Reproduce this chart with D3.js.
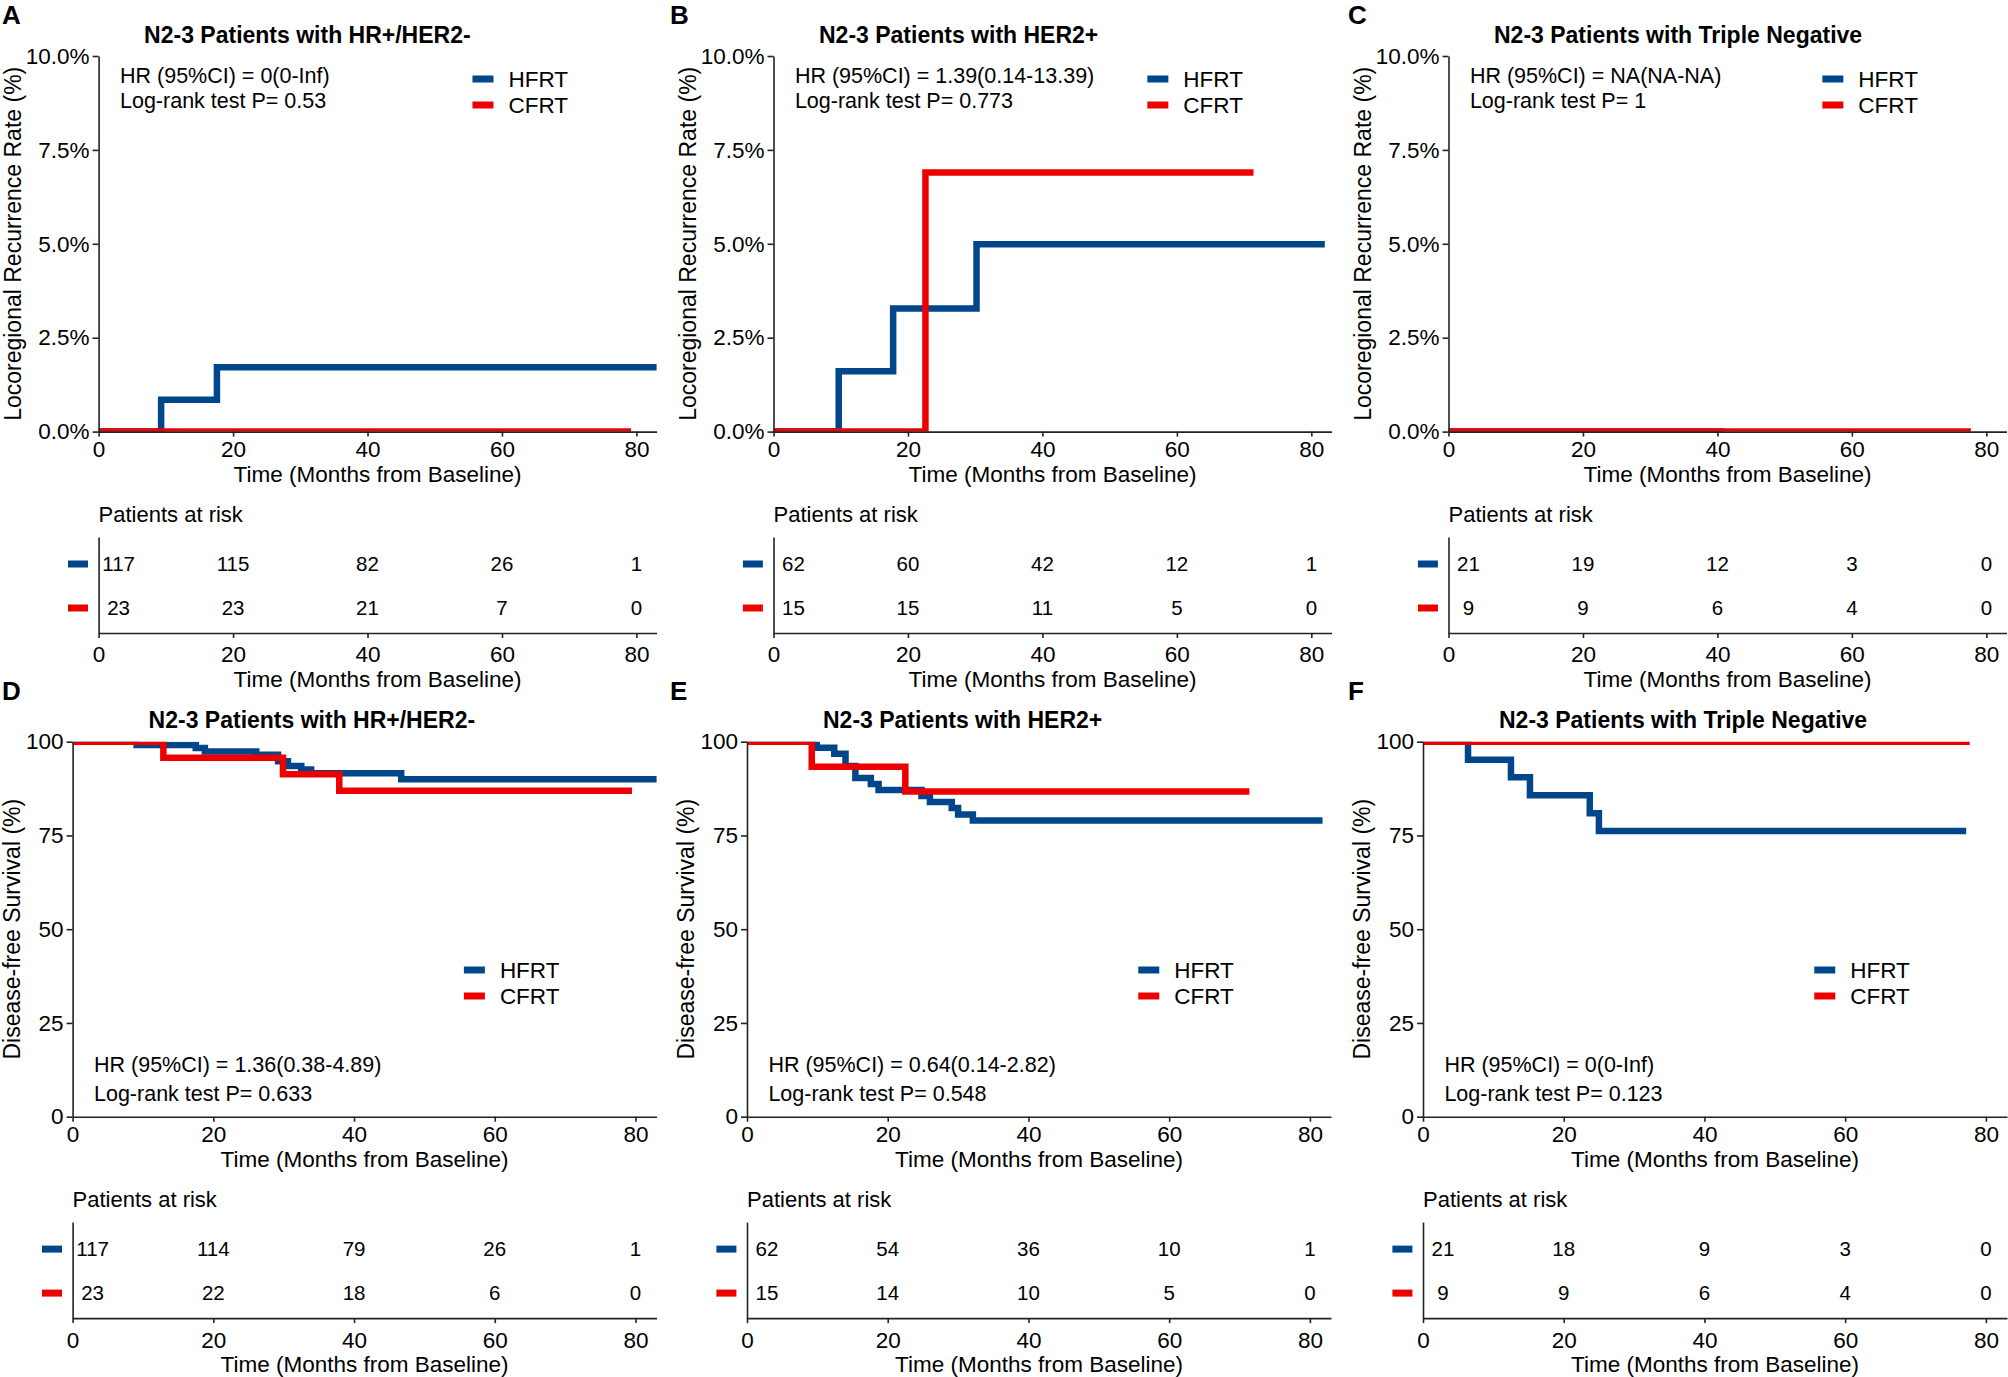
<!DOCTYPE html>
<html>
<head>
<meta charset="utf-8">
<script src="https://cdn.jsdelivr.net/npm/d3@7"></script>
<style>
  body { margin: 0; background: #fff; }
  text { font-family: "Liberation Sans", Arial, sans-serif; fill: #000; }
</style>
</head>
<body>
<svg id="fig" width="2008" height="1377"></svg>
<script>
// ---- data ----
const groups = ["HFRT", "CFRT"];
const timeTicks = [0, 20, 40, 60, 80];
const lrrTicks = [0, 2.5, 5, 7.5, 10];
const dfsTicks = [0, 25, 50, 75, 100];
const panelLetters = ["A", "B", "C", "D", "E", "F"];
const subtypeTitles = ["N2-3 Patients with HR+/HER2-", "N2-3 Patients with HER2+", "N2-3 Patients with Triple Negative"];
const hrLabels = ["HR (95%CI) = 0(0-Inf)", "HR (95%CI) = 1.39(0.14-13.39)", "HR (95%CI) = NA(NA-NA)",
                  "HR (95%CI) = 1.36(0.38-4.89)", "HR (95%CI) = 0.64(0.14-2.82)", "HR (95%CI) = 0(0-Inf)"];
const pLabels = ["Log-rank test P= 0.53", "Log-rank test P= 0.773", "Log-rank test P= 1",
                 "Log-rank test P= 0.633", "Log-rank test P= 0.548", "Log-rank test P= 0.123"];

// locoregional recurrence (cumulative %, step after)
const lrrA_hfrtT = [0, 9.3, 17.6, 84];
const lrrA_hfrtV = [0, 0.85, 1.71, 1.71];
const lrrA_cfrtT = [0, 79.2];
const lrrA_cfrtV = [0, 0];
const lrrB_hfrtT = [0, 9.7, 17.8, 30.2, 82.0];
const lrrB_hfrtV = [0, 1.61, 3.28, 4.99, 4.99];
const lrrB_cfrtT = [0, 22.6, 71.4];
const lrrB_cfrtV = [0, 6.9, 6.9];
const lrrC_hfrtT = [0, 41];
const lrrC_hfrtV = [0, 0];
const lrrC_cfrtT = [0, 77.7];
const lrrC_cfrtV = [0, 0];

// disease-free survival (%)
const dfsD_hfrtT = [0, 9.1, 17.5, 18.8, 26.1, 29.2, 30.6, 32.5, 33.9, 46.7, 84];
const dfsD_hfrtV = [100, 99.1, 98.3, 97.4, 96.5, 94.8, 93.5, 92.6, 91.6, 90.0, 90.0];
const dfsD_cfrtT = [0, 12.9, 29.9, 37.9, 79.5];
const dfsD_cfrtV = [100, 95.7, 91.3, 86.9, 86.9];
const dfsE_hfrtT = [0, 9.9, 12.4, 14.0, 15.4, 17.6, 18.7, 24.8, 26.0, 29.1, 30.0, 32.1, 81.8];
const dfsE_hfrtV = [100, 98.4, 96.8, 93.5, 90.3, 88.7, 87.1, 85.5, 83.9, 82.3, 80.6, 79.0, 79.0];
const dfsE_cfrtT = [0, 9.2, 22.5, 71.4];
const dfsE_cfrtV = [100, 93.3, 86.7, 86.7];
const dfsF_hfrtT = [0, 6.4, 12.5, 15.2, 23.7, 25.0, 77.2];
const dfsF_hfrtV = [100, 95.2, 90.5, 85.7, 80.9, 76.2, 76.2];
const dfsF_cfrtT = [0, 77.7];
const dfsF_cfrtV = [100, 100];

// patients at risk at 0, 20, 40, 60, 80 months
const riskA_hfrt = [117, 115, 82, 26, 1], riskA_cfrt = [23, 23, 21, 7, 0];
const riskB_hfrt = [62, 60, 42, 12, 1],   riskB_cfrt = [15, 15, 11, 5, 0];
const riskC_hfrt = [21, 19, 12, 3, 0],    riskC_cfrt = [9, 9, 6, 4, 0];
const riskD_hfrt = [117, 114, 79, 26, 1], riskD_cfrt = [23, 22, 18, 6, 0];
const riskE_hfrt = [62, 54, 36, 10, 1],   riskE_cfrt = [15, 14, 10, 5, 0];
const riskF_hfrt = [21, 18, 9, 3, 0],     riskF_cfrt = [9, 9, 6, 4, 0];

// ---- styling / layout ----
const colors = ["#00468B", "#ED0000"];
const FS = 22;

const svg = d3.select("#fig");
svg.append("rect").attr("width", 2008).attr("height", 1377).attr("fill", "#fff");

const panels = [
  { row: 0, left: 98.6, letterX: 2, curves: [[lrrA_hfrtT, lrrA_hfrtV], [lrrA_cfrtT, lrrA_cfrtV]], risk: [riskA_hfrt, riskA_cfrt] },
  { row: 0, left: 773.5, letterX: 670, curves: [[lrrB_hfrtT, lrrB_hfrtV], [lrrB_cfrtT, lrrB_cfrtV]], risk: [riskB_hfrt, riskB_cfrt] },
  { row: 0, left: 1448.5, letterX: 1348, curves: [[lrrC_hfrtT, lrrC_hfrtV], [lrrC_cfrtT, lrrC_cfrtV]], risk: [riskC_hfrt, riskC_cfrt] },
  { row: 1, left: 72.6, letterX: 2, curves: [[dfsD_hfrtT, dfsD_hfrtV], [dfsD_cfrtT, dfsD_cfrtV]], risk: [riskD_hfrt, riskD_cfrt] },
  { row: 1, left: 747, letterX: 670, curves: [[dfsE_hfrtT, dfsE_hfrtV], [dfsE_cfrtT, dfsE_cfrtV]], risk: [riskE_hfrt, riskE_cfrt] },
  { row: 1, left: 1423, letterX: 1348, curves: [[dfsF_hfrtT, dfsF_hfrtV], [dfsF_cfrtT, dfsF_cfrtV]], risk: [riskF_hfrt, riskF_cfrt] }
];

function styleAxis(g, size) {
  g.select(".domain").attr("stroke", "#222").attr("stroke-width", 1.6);
  g.selectAll(".tick line").attr("stroke", "#222").attr("stroke-width", 1.6);
  g.selectAll(".tick text").attr("font-size", size).attr("fill", "#000")
    .attr("font-family", '"Liberation Sans", Arial, sans-serif');
}

panels.forEach((p, i) => {
  const top = p.row === 0 ? 56 : 741.7;
  const bottom = p.row === 0 ? 431.6 : 1116.7;
  const width = p.row === 0 ? 558 : 584;
  const yMax = p.row === 0 ? 10 : 100;
  const g = svg.append("g");

  const x = d3.scaleLinear().domain([0, 83]).range([p.left, p.left + width]);
  const y = d3.scaleLinear().domain([0, yMax]).range([bottom, top]);

  // panel letter + title
  g.append("text").attr("x", p.letterX).attr("y", p.row === 0 ? 24 : 700)
    .attr("font-size", 26).attr("font-weight", "bold").text(panelLetters[i]);
  g.append("text").attr("x", p.left + (p.row === 0 ? 45.5 : 76)).attr("y", top - 13.5)
    .attr("font-size", 23).attr("font-weight", "bold").text(subtypeTitles[i % 3]);

  // curves clipped to the panel
  const clipId = "clip" + i;
  svg.append("clipPath").attr("id", clipId).append("rect")
    .attr("x", p.left).attr("y", top).attr("width", width).attr("height", bottom - top);
  const line = d3.line().x(d => x(d[0])).y(d => y(d[1])).curve(d3.curveStepAfter);
  const cg = g.append("g").attr("clip-path", `url(#${clipId})`);
  p.curves.forEach((c, k) => {
    cg.append("path").datum(d3.zip(c[0], c[1]))
      .attr("d", line).attr("fill", "none")
      .attr("stroke", colors[k]).attr("stroke-width", 6.5)
      .attr("stroke-linejoin", "miter").attr("stroke-linecap", "butt");
  });

  // axes
  const yAxis = d3.axisLeft(y).tickValues(p.row === 0 ? lrrTicks : dfsTicks)
    .tickFormat(p.row === 0 ? (d => d.toFixed(1) + "%") : d3.format("d"))
    .tickSize(6).tickSizeOuter(0).tickPadding(3);
  g.append("g").attr("transform", `translate(${p.left},0)`).call(yAxis).call(a => styleAxis(a, 22.5));
  const xAxis = d3.axisBottom(x).tickValues(timeTicks).tickSize(5).tickSizeOuter(0).tickPadding(4);
  g.append("g").attr("transform", `translate(0,${bottom})`).call(xAxis).call(a => styleAxis(a, 22.5));

  g.append("text").attr("x", (p.left + p.left + width) / 2).attr("y", bottom + 50)
    .attr("text-anchor", "middle").attr("font-size", 22.5).text("Time (Months from Baseline)");
  g.append("text")
    .attr("transform", `translate(${p.left - (p.row === 0 ? 86 : 61)},${(top + bottom) / 2}) rotate(-90)`)
    .attr("text-anchor", "middle").attr("dy", "0.35em").attr("font-size", 23)
    .text(p.row === 0 ? "Locoregional Recurrence Rate (%)" : "Disease-free Survival (%)");

  // HR / log-rank annotation
  const annY = p.row === 0 ? [top + 27.3, top + 52.3] : [bottom - 45, bottom - 16];
  g.append("text").attr("x", p.left + 21.4).attr("y", annY[0]).attr("font-size", 21.5).text(hrLabels[i]);
  g.append("text").attr("x", p.left + 21.4).attr("y", annY[1]).attr("font-size", 21.5).text(pLabels[i]);

  // legend
  const legX = p.left + 0.67 * width;
  const legY = p.row === 0 ? [top + 23, top + 49] : [top + 228.3, top + 254.3];
  groups.forEach((name, k) => {
    g.append("rect").attr("x", legX).attr("y", legY[k] - 3.5).attr("width", 21).attr("height", 7).attr("fill", colors[k]);
    g.append("text").attr("x", legX + 36).attr("y", legY[k] + 8.3).attr("font-size", 22.5).text(name);
  });

  // risk table
  const rTop = bottom + 105.4, rAxis = bottom + 201.4;
  g.append("text").attr("x", p.left).attr("y", bottom + 90.4).attr("font-size", FS).text("Patients at risk");
  const ry = d3.scaleLinear().domain([0, 1]).range([rAxis, rTop]);
  g.append("g").attr("transform", `translate(${p.left},0)`)
    .call(d3.axisLeft(ry).tickValues([]).tickSizeOuter(0)).call(a => styleAxis(a, FS));
  g.append("g").attr("transform", `translate(0,${rAxis})`)
    .call(d3.axisBottom(x).tickValues(timeTicks).tickSize(5).tickSizeOuter(0).tickPadding(8.5))
    .call(a => styleAxis(a, 22.5));
  g.append("text").attr("x", (p.left + p.left + width) / 2).attr("y", bottom + 255)
    .attr("text-anchor", "middle").attr("font-size", 22.5).text("Time (Months from Baseline)");
  const rowY = [bottom + 132.4, bottom + 176.4];
  p.risk.forEach((counts, k) => {
    g.append("rect").attr("x", p.left - 30.6).attr("y", rowY[k] - 3.5).attr("width", 20).attr("height", 7).attr("fill", colors[k]);
    g.selectAll(null).data(counts).join("text")
      .attr("x", (d, j) => x(timeTicks[j]) + (j === 0 ? 20 : 0))
      .attr("y", rowY[k]).attr("dy", "0.35em")
      .attr("text-anchor", "middle").attr("font-size", 20.5)
      .text(d => d);
  });
});
</script>
</body>
</html>
